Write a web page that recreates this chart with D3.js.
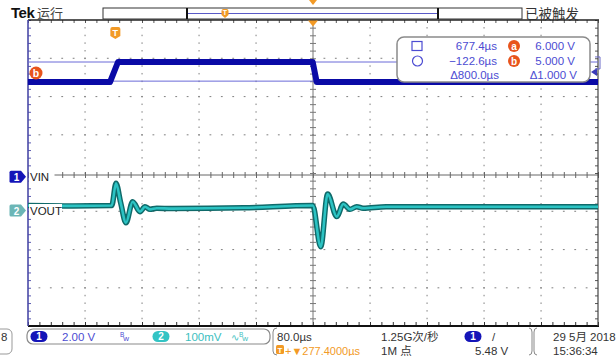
<!DOCTYPE html>
<html><head><meta charset="utf-8">
<script src="https://cdn.jsdelivr.net/npm/d3@7"></script>
<style>
html,body{margin:0;padding:0;background:#fff;}
svg{display:block;}
text{font-family:"Liberation Sans","Noto Sans CJK SC",sans-serif;}
</style></head><body>
<svg id="scope" width="616" height="356"></svg>
<script>
// ---- acquisition settings ----
const timePerDiv = 80;            // µs / div
const ch1VoltsPerDiv = 2;         // V / div
const ch2MillivoltsPerDiv = 100;  // mV / div
const triggerDelay = 277.4;       // µs, time at screen centre
const triggerLevel = 5.48;        // V on channel 1
const sampleRate = "1.25G次/秒";
const recordLength = "1M 点";
const dateLabel = "29 5月 2018";
const timeLabel = "15:36:34";

// ---- channel 1: VIN step (µs, V) ----
const vinTimes = [-122.6, -7.5, 3.7, 277.0, 282.6, 677.4];
const vinVolts = [4.95, 4.95, 6.0, 6.0, 4.95, 4.95];

// ---- channel 2: VOUT response (µs, mV) ----
const voutTimes = [-122.6, -60, -5.0, 0.9, 7.5, 14.9, 24.3, 34.6, 41.6, 48.6, 58, 80, 180, 277.0, 288.2, 298.0, 310.7, 319.9, 329.3, 338.7, 347.6, 380, 677.4];
const voutMillivolts = [13, 12, 13, 71, 20, -32, 23, -3, 10, 3, 6, 5, 7, 13, -95, 43, -16, 17, 3, 10, 6, 10, 10];

// ---- cursors ----
const cursorTimes = [677.4, -122.6];
const cursorVolts = [6.0, 5.0];
const cursorNames = ["a", "b"];

// ---- layout ----
const svg = d3.select("#scope");
const P = {left: 28, right: 598, top: 20, bottom: 326};
const divX = (P.right - P.left) / 10;
const divY = (P.bottom - P.top) / 8;
const midX = (P.left + P.right) / 2;
const midY = 175;
const ch1Ground = 176.75;
const ch2Ground = 210.5;

const C = {
  ch1: "#0a0aa6", ch1Text: "#4c4cd2", ch2: "#2cc3c3", ch2Dark: "#0f6a6a",
  cursor: "#6a6ad8", orange: "#f29a26", red: "#e8541c", grid: "#8a8a8a", text: "#333"
};

const x = d3.scaleLinear()
  .domain([triggerDelay - 5 * timePerDiv, triggerDelay + 5 * timePerDiv])
  .range([P.left, P.right]);
const yDiv = d3.scaleLinear().domain([-4, 4]).range([P.bottom, P.top]);
const yCh1 = d3.scaleLinear().domain([0, ch1VoltsPerDiv]).range([ch1Ground, ch1Ground - divY]);
const yCh2 = d3.scaleLinear().domain([0, ch2MillivoltsPerDiv]).range([ch2Ground, ch2Ground - divY]);

svg.append("defs").append("clipPath").attr("id", "plotClip")
  .append("rect").attr("x", P.left).attr("y", P.top)
  .attr("width", P.right - P.left).attr("height", P.bottom - P.top);

// ---- graticule: dotted division lines ----
const grid = svg.append("g");
const minorX = d3.range(1, 50).map(k => P.left + k * divX / 5);
const minorY = d3.range(1, 40).map(k => P.top + k * divY / 5);
d3.range(1, 10).filter(i => i !== 5).forEach(i => {
  const gx = P.left + i * divX;
  grid.selectAll(null).data(minorY).join("rect")
    .attr("x", gx - 0.5).attr("y", d => d - 0.6).attr("width", 1.1).attr("height", 1.5)
    .attr("fill", C.grid);
});
d3.range(1, 8).filter(j => j !== 4).forEach(j => {
  const gy = P.top + j * divY;
  grid.selectAll(null).data(minorX).join("rect")
    .attr("x", d => d - 0.9).attr("y", gy - 0.5).attr("width", 1.8).attr("height", 1.1)
    .attr("fill", C.grid);
});

// tick rulers on the border and centre lines
const xTicks = d3.range(0, 51).map(k => x.domain()[0] + k * timePerDiv / 5);
const yTicks = d3.range(-20, 21).map(k => k / 5);
function ruler(axis, tx, ty, colour) {
  const g = svg.append("g").attr("transform", `translate(${tx},${ty})`).call(axis);
  g.selectAll("text").remove();
  g.selectAll("line").attr("stroke", colour).attr("stroke-width", 1);
  g.select(".domain").remove();
  return g;
}
ruler(d3.axisBottom(x).tickValues(xTicks).tickSize(3).tickFormat(""), 0, P.top, "#555");
ruler(d3.axisTop(x).tickValues(xTicks).tickSize(4).tickFormat(""), 0, P.bottom, "#333");
ruler(d3.axisTop(x).tickValues(xTicks).tickSize(3).tickFormat(""), 0, midY, "#666");
ruler(d3.axisBottom(x).tickValues(xTicks).tickSize(3).tickFormat(""), 0, midY, "#666");
ruler(d3.axisRight(yDiv).tickValues(yTicks).tickSize(3).tickFormat(""), P.left, 0, "#5a5ab0");
ruler(d3.axisLeft(yDiv).tickValues(yTicks).tickSize(3).tickFormat(""), P.right, 0, "#555");
ruler(d3.axisLeft(yDiv).tickValues(yTicks).tickSize(3).tickFormat(""), midX, 0, "#777");
ruler(d3.axisRight(yDiv).tickValues(yTicks).tickSize(3).tickFormat(""), midX, 0, "#777");

svg.append("line").attr("x1", midX).attr("x2", midX).attr("y1", P.top).attr("y2", P.bottom)
  .attr("stroke", "#777").attr("stroke-width", 1);
svg.append("line").attr("x1", P.left).attr("x2", P.right).attr("y1", midY).attr("y2", midY)
  .attr("stroke", "#666").attr("stroke-width", 1);

// border
svg.append("line").attr("x1", P.left).attr("x2", P.right + 1).attr("y1", P.top).attr("y2", P.top)
  .attr("stroke", "#222").attr("stroke-width", 1.5);
svg.append("line").attr("x1", P.left).attr("x2", P.right + 1).attr("y1", P.bottom).attr("y2", P.bottom)
  .attr("stroke", "#111").attr("stroke-width", 2.2);
svg.append("line").attr("x1", P.right).attr("x2", P.right).attr("y1", P.top).attr("y2", P.bottom)
  .attr("stroke", "#444").attr("stroke-width", 1.2);
svg.append("line").attr("x1", P.left).attr("x2", P.left).attr("y1", P.top).attr("y2", P.bottom)
  .attr("stroke", "#4a4aa8").attr("stroke-width", 1.6);

// ---- horizontal cursor lines ----
svg.append("g").selectAll("line").data(cursorVolts).join("line")
  .attr("x1", P.left).attr("x2", P.right)
  .attr("y1", d => yCh1(d)).attr("y2", d => yCh1(d))
  .attr("stroke", C.cursor).attr("stroke-width", 1);

// ---- waveforms ----
const traces = svg.append("g").attr("clip-path", "url(#plotClip)");
const vinLine = d3.line().x(d => x(d[0])).y(d => yCh1(d[1]));
const vinData = d3.zip(vinTimes, vinVolts);
traces.append("path").attr("d", vinLine(vinData)).attr("fill", "none")
  .attr("stroke", C.ch1).attr("stroke-width", 6).attr("stroke-linejoin", "round");

const voutLine = d3.line().x(d => x(d[0])).y(d => yCh2(d[1])).curve(d3.curveMonotoneX);
const voutData = d3.zip(voutTimes, voutMillivolts);
traces.append("path").attr("d", voutLine(voutData)).attr("fill", "none")
  .attr("stroke", C.ch2Dark).attr("stroke-width", 5.5).attr("stroke-linejoin", "round");
traces.append("path").attr("d", voutLine(voutData)).attr("fill", "none")
  .attr("stroke", C.ch2).attr("stroke-width", 2.6).attr("stroke-linejoin", "round");

// ---- cursor readout box (drawn over the traces) ----
const box = svg.append("g");
box.append("rect").attr("x", 397).attr("y", 37).attr("width", 193).attr("height", 45).attr("rx", 7)
  .attr("fill", "#fff").attr("stroke", "#8a8a8a").attr("stroke-width", 1.5);
box.append("rect").attr("x", 412).attr("y", 41.5).attr("width", 10).attr("height", 9)
  .attr("fill", "none").attr("stroke", C.ch1Text).attr("stroke-width", 1.2);
box.append("circle").attr("cx", 417.5).attr("cy", 61).attr("r", 5)
  .attr("fill", "none").attr("stroke", C.ch1Text).attr("stroke-width", 1.2);
const fmtT = t => (t < 0 ? "\u2212" : "") + d3.format(".1f")(Math.abs(t)) + "µs";
const fmtV = v => d3.format(".3f")(v) + " V";
const rowY = [50, 65, 79];
box.selectAll("text.t").data(cursorTimes).join("text").attr("class", "t")
  .attr("x", 497).attr("y", (d, i) => rowY[i]).attr("text-anchor", "end")
  .attr("font-size", 11.5).attr("fill", C.ch1Text).text(fmtT);
box.selectAll("text.v").data(cursorVolts).join("text").attr("class", "v")
  .attr("x", 575).attr("y", (d, i) => rowY[i]).attr("text-anchor", "end")
  .attr("font-size", 11.5).attr("fill", C.ch1Text).text(fmtV);
box.append("text").attr("x", 499).attr("y", rowY[2]).attr("text-anchor", "end")
  .attr("font-size", 11.5).attr("fill", C.ch1Text)
  .text("\u0394" + d3.format(".1f")(Math.abs(cursorTimes[0] - cursorTimes[1])) + "µs");
box.append("text").attr("x", 577).attr("y", rowY[2]).attr("text-anchor", "end")
  .attr("font-size", 11.5).attr("fill", C.ch1Text)
  .text("\u0394" + fmtV(Math.abs(cursorVolts[0] - cursorVolts[1])));
cursorNames.forEach((n, i) => {
  box.append("circle").attr("cx", 514).attr("cy", rowY[i] - 4).attr("r", 6).attr("fill", C.red);
  box.append("text").attr("x", 514).attr("y", rowY[i] - 0.5).attr("text-anchor", "middle")
    .attr("font-size", 10).attr("font-weight", "bold").attr("fill", "#fff").text(n);
});

// ---- channel labels and ground markers ----
function channelMarker(y, fill, num, label) {
  svg.append("rect").attr("x", P.left + 1).attr("y", y - 6.5).attr("width", label.length * 7.5 + 3)
    .attr("height", 13).attr("fill", "#fff");
  svg.append("path")
    .attr("d", `M11,${y - 6} h10 l5,6 l-5,6 h-10 q-1.5,0 -1.5,-1.5 v-9 q0,-1.5 1.5,-1.5 z`)
    .attr("fill", fill);
  svg.append("text").attr("x", 16.5).attr("y", y + 4).attr("text-anchor", "middle")
    .attr("font-size", 10).attr("font-weight", "bold").attr("fill", "#fff").text(num);
  svg.append("text").attr("x", P.left + 2).attr("y", y + 4.5)
    .attr("font-size", 11.5).attr("fill", "#222").text(label);
}
channelMarker(ch1Ground, "#1414b8", "1", "VIN");
channelMarker(ch2Ground, "#6cb6b6", "2", "VOUT");

// cursor b marker at left edge
svg.append("circle").attr("cx", 36).attr("cy", 73).attr("r", 6.5).attr("fill", C.red);
svg.append("text").attr("x", 36).attr("y", 77).attr("text-anchor", "middle")
  .attr("font-size", 10.5).attr("font-weight", "bold").attr("fill", "#fff").text(cursorNames[1]);

// trigger level arrow on right edge
const yTrig = yCh1(triggerLevel);
svg.append("path").attr("d", `M${P.right - 7},${yTrig} l6,-4 v8 z`).attr("fill", "#3a3ab8");
svg.append("path").attr("d", `M${P.right - 3},${yTrig - 15} h5 v12 h-5`).attr("fill", "none")
  .attr("stroke", "#6a6ac8").attr("stroke-width", 1);

// trigger markers
function trigMarker(cx, top, w, h, fs) {
  svg.append("path")
    .attr("d", `M${cx - w / 2},${top + 2} q0,-2 2,-2 h${w - 4} q2,0 2,2 v${h - 5} l${-w / 2},3 l${-w / 2},-3 z`)
    .attr("fill", C.orange);
  svg.append("text").attr("x", cx).attr("y", top + h - 3.5).attr("text-anchor", "middle")
    .attr("font-size", fs).attr("font-weight", "bold").attr("fill", "#fff").text("T");
}
trigMarker(x(0), 27, 10, 12, 9);
svg.append("path").attr("d", `M${midX - 5},${P.top + 0.5} h10 l-5,6 z`).attr("fill", C.orange);

// ---- top status bar ----
svg.append("text").attr("x", 11).attr("y", 18).attr("font-size", 15).attr("font-weight", "bold")
  .attr("fill", "#111").attr("letter-spacing", -0.5).text("Tek");
svg.append("text").attr("x", 37).attr("y", 18).attr("font-size", 13).attr("fill", "#444").text("运行");
svg.append("rect").attr("x", 103).attr("y", 8).attr("width", 419).attr("height", 11)
  .attr("fill", "#fff").attr("stroke", "#333").attr("stroke-width", 1);
svg.append("line").attr("x1", 188).attr("x2", 437).attr("y1", 13.5).attr("y2", 13.5)
  .attr("stroke", "#5a5ac8").attr("stroke-width", 1.2);
[187, 438].forEach(bx => svg.append("line").attr("x1", bx).attr("x2", bx).attr("y1", 8).attr("y2", 19)
  .attr("stroke", "#111").attr("stroke-width", 2));
trigMarker(225, 9, 7, 9, 7);
svg.append("path").attr("d", `M${midX - 4},0 h8 l-4,5 z`).attr("fill", C.orange);
svg.append("text").attr("x", 525).attr("y", 19).attr("font-size", 13.5).attr("fill", "#333").text("已被触发");

// ---- bottom status bar ----
const bb = svg.append("g").attr("font-size", 11.5);
bb.append("rect").attr("x", -10).attr("y", 329).attr("width", 22).attr("height", 25).attr("rx", 5)
  .attr("fill", "none").attr("stroke", "#999");
bb.append("text").attr("x", 1).attr("y", 341).attr("fill", C.text).text("8");
bb.append("rect").attr("x", 27).attr("y", 329).attr("width", 243).attr("height", 15).attr("rx", 6)
  .attr("fill", "none").attr("stroke", "#8a8a8a").attr("stroke-width", 1.2);
function pill(cx, fill, num) {
  bb.append("rect").attr("x", cx - 8.5).attr("y", 331).attr("width", 17).attr("height", 11).attr("rx", 5.5)
    .attr("fill", fill);
  bb.append("text").attr("x", cx).attr("y", 340).attr("text-anchor", "middle").attr("font-size", 10)
    .attr("font-weight", "bold").attr("fill", "#fff").text(num);
}
// bandwidth-limit glyph: small raised B followed by w
function bwGlyph(gx, colour, prefix) {
  const t = bb.append("text").attr("x", gx).attr("y", 341).attr("fill", colour).attr("font-size", 8);
  if (prefix) t.append("tspan").attr("font-size", 10).text(prefix);
  t.append("tspan").attr("dy", -4).attr("font-size", 6.5).text("B");
  t.append("tspan").attr("dy", 4).attr("dx", -1).text("w");
}
pill(39, "#1414b8", "1");
bb.append("text").attr("x", 62).attr("y", 340.5).attr("fill", C.ch1Text)
  .text(d3.format(".2f")(ch1VoltsPerDiv) + " V");
bwGlyph(120, C.ch1Text, null);
pill(161, "#33c4c4", "2");
bb.append("text").attr("x", 185).attr("y", 340.5).attr("fill", "#3cc0c0").text(ch2MillivoltsPerDiv + "mV");
bwGlyph(231, "#3cc0c0", "\u223F");

bb.append("path").attr("d", "M277,328 q-4,0 -4,4 v19 q0,4 4,4").attr("fill", "none").attr("stroke", "#888");
bb.append("text").attr("x", 277).attr("y", 341).attr("fill", C.text).text(d3.format(".1f")(timePerDiv) + "µs");
bb.append("rect").attr("x", 276).attr("y", 345).attr("width", 8).attr("height", 9).attr("rx", 1.5).attr("fill", C.orange);
bb.append("text").attr("x", 280).attr("y", 353).attr("text-anchor", "middle").attr("font-size", 8)
  .attr("font-weight", "bold").attr("fill", "#fff").text("T");
bb.append("text").attr("x", 285).attr("y", 354.5).attr("font-size", 11).attr("fill", C.orange)
  .text("+\u25BC" + d3.format(".4f")(triggerDelay) + "µs");

bb.append("text").attr("x", 381).attr("y", 341).attr("fill", C.text).text(sampleRate);
bb.append("text").attr("x", 381).attr("y", 355).attr("fill", C.text).text(recordLength);
pill(473, "#1414b8", "1");
bb.append("text").attr("x", 492).attr("y", 341).attr("fill", C.text).text("/");
bb.append("text").attr("x", 475).attr("y", 355).attr("fill", C.text).text(d3.format(".2f")(triggerLevel) + " V");

bb.append("path").attr("d", "M529,328 q3,0 3,4 v19 q0,4 -3,4").attr("fill", "none").attr("stroke", "#888");
bb.append("path").attr("d", "M537,328 q-3,0 -3,4 v19 q0,4 3,4").attr("fill", "none").attr("stroke", "#888");
bb.append("text").attr("x", 553).attr("y", 341).attr("fill", C.text).text(dateLabel);
bb.append("text").attr("x", 553).attr("y", 355).attr("fill", C.text).text(timeLabel);
</script>
</body></html>
